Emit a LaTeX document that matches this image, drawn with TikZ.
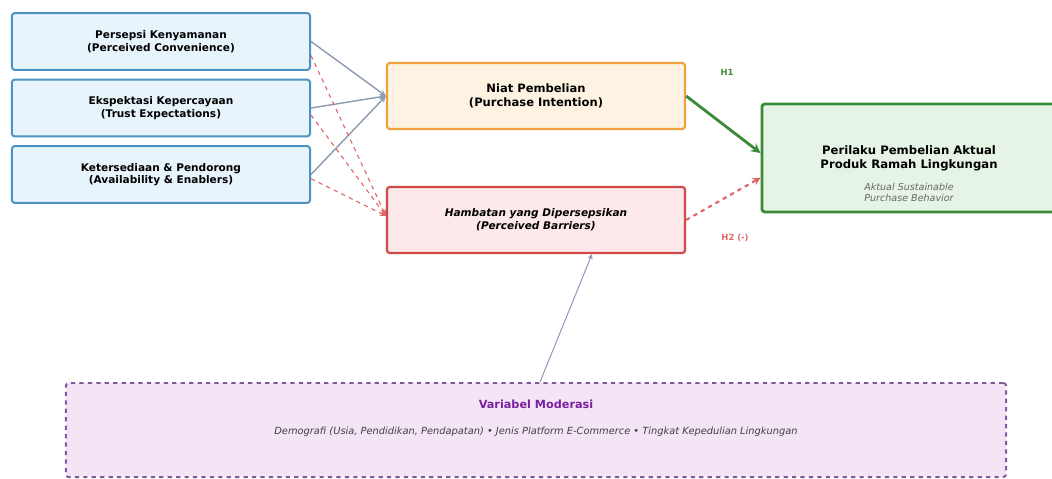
\documentclass[tikz,border=0pt]{standalone}
\usepackage{fontspec}
\setmainfont{DejaVu Sans}
\definecolor{factorfill}{HTML}{E8F4FB}
\definecolor{factorline}{HTML}{4A92C2}
\definecolor{intentfill}{HTML}{FEF3E2}
\definecolor{intentline}{HTML}{F0A040}
\definecolor{barrierfill}{HTML}{FDE8EA}
\definecolor{barrierline}{HTML}{D04A4A}
\definecolor{behavfill}{HTML}{E6F4E6}
\definecolor{behavline}{HTML}{3A8A3A}
\definecolor{modfill}{HTML}{F3E5F5}
\definecolor{modline}{HTML}{7B5A9E}
\definecolor{modtitle}{HTML}{7B1FA2}
\definecolor{pathgray}{HTML}{8A9AB0}
\definecolor{pathred}{HTML}{E06666}
\begin{document}
\begin{tikzpicture}[x=0.025cm,y=-0.025cm,
	factor/.style={draw=factorline,fill=factorfill,line width=1.4pt,rounded corners=2pt,
		minimum width=7.45cm,minimum height=1.42cm,align=center,font=\fontsize{7.5}{9}\selectfont\bfseries},
	mainbox/.style={line width=1.6pt,rounded corners=2pt,minimum width=7.45cm,minimum height=1.65cm,
		align=center,font=\fontsize{8.2}{9.8}\selectfont\bfseries},
	toint/.style={->,>=stealth,draw=pathgray,line width=1pt},
	tobar/.style={->,>=stealth,draw=pathred,line width=0.8pt,dashed}]
	\useasboundingbox (0,0) rectangle (1052,479);
	\node[factor] (conv) at (161,41.5) {Persepsi Kenyamanan\\(Perceived Convenience)};
	\node[factor] (trust) at (161,108) {Ekspektasi Kepercayaan\\(Trust Expectations)};
	\node[factor] (avail) at (161,174.5) {Ketersediaan \& Pendorong\\(Availability \& Enablers)};
	\node[mainbox,draw=intentline,fill=intentfill] (niat) at (536,96) {Niat Pembelian\\(Purchase Intention)};
	\node[mainbox,draw=barrierline,fill=barrierfill,font=\fontsize{7.5}{9}\selectfont\bfseries\itshape] (hamb) at (536,220) {Hambatan yang Dipersepsikan\\(Perceived Barriers)};
	\node[draw=behavline,fill=behavfill,line width=2pt,rounded corners=2pt,minimum width=7.35cm,minimum height=2.7cm,align=center,font=\fontsize{8.3}{10}\selectfont\bfseries] (behav) at (909,158) {Perilaku Pembelian Aktual\\Produk Ramah Lingkungan};
	\node[align=center,text=black!60,font=\fontsize{6.8}{7.8}\selectfont\itshape] (behavsub) at (909,192) {Aktual Sustainable\\Purchase Behavior};
	\node[draw=modline,fill=modfill,line width=1.4pt,dashed,rounded corners=2pt,minimum width=23.5cm,minimum height=2.35cm] (moder) at (536,430) {};
	\node[text=modtitle,font=\fontsize{8}{9}\selectfont\bfseries] (modhead) at (536,404) {Variabel Moderasi};
	\node[text=black!75,font=\fontsize{7}{8}\selectfont\itshape] (modlist) at (536,432) {Demografi (Usia, Pendidikan, Pendapatan) • Jenis Platform E-Commerce • Tingkat Kepedulian Lingkungan};
	\draw[toint] (conv.east) -- (niat.west);
	\draw[toint] (trust.east) -- (niat.west);
	\draw[toint] (avail.east) -- (niat.west);
	\draw[tobar] ([yshift=-10pt]conv.east) -- ([yshift=3pt]hamb.west);
	\draw[tobar] ([yshift=-5pt]trust.east) -- ([yshift=3pt]hamb.west);
	\draw[tobar] ([yshift=-3pt]avail.east) -- ([yshift=3pt]hamb.west);
	\draw[->,>=stealth,draw=behavline,line width=2pt] (niat.east) -- ([yshift=3.5pt]behav.west);
	\draw[->,>=stealth,draw=pathred,line width=1.5pt,dashed] (hamb.east) -- ([yshift=-14pt]behav.west);
	\draw[->,>=stealth,draw=modline!70,line width=0.7pt] ([xshift=0.1cm]moder.north) -- ([xshift=1.4cm]hamb.south);
	\node[text=behavline,font=\fontsize{6}{7}\selectfont\bfseries] (hone) at (727,72) {H1};
	\node[text=pathred,font=\fontsize{6}{7}\selectfont\bfseries] (htwo) at (735,238) {H2 (-)};
\end{tikzpicture}
\end{document}
